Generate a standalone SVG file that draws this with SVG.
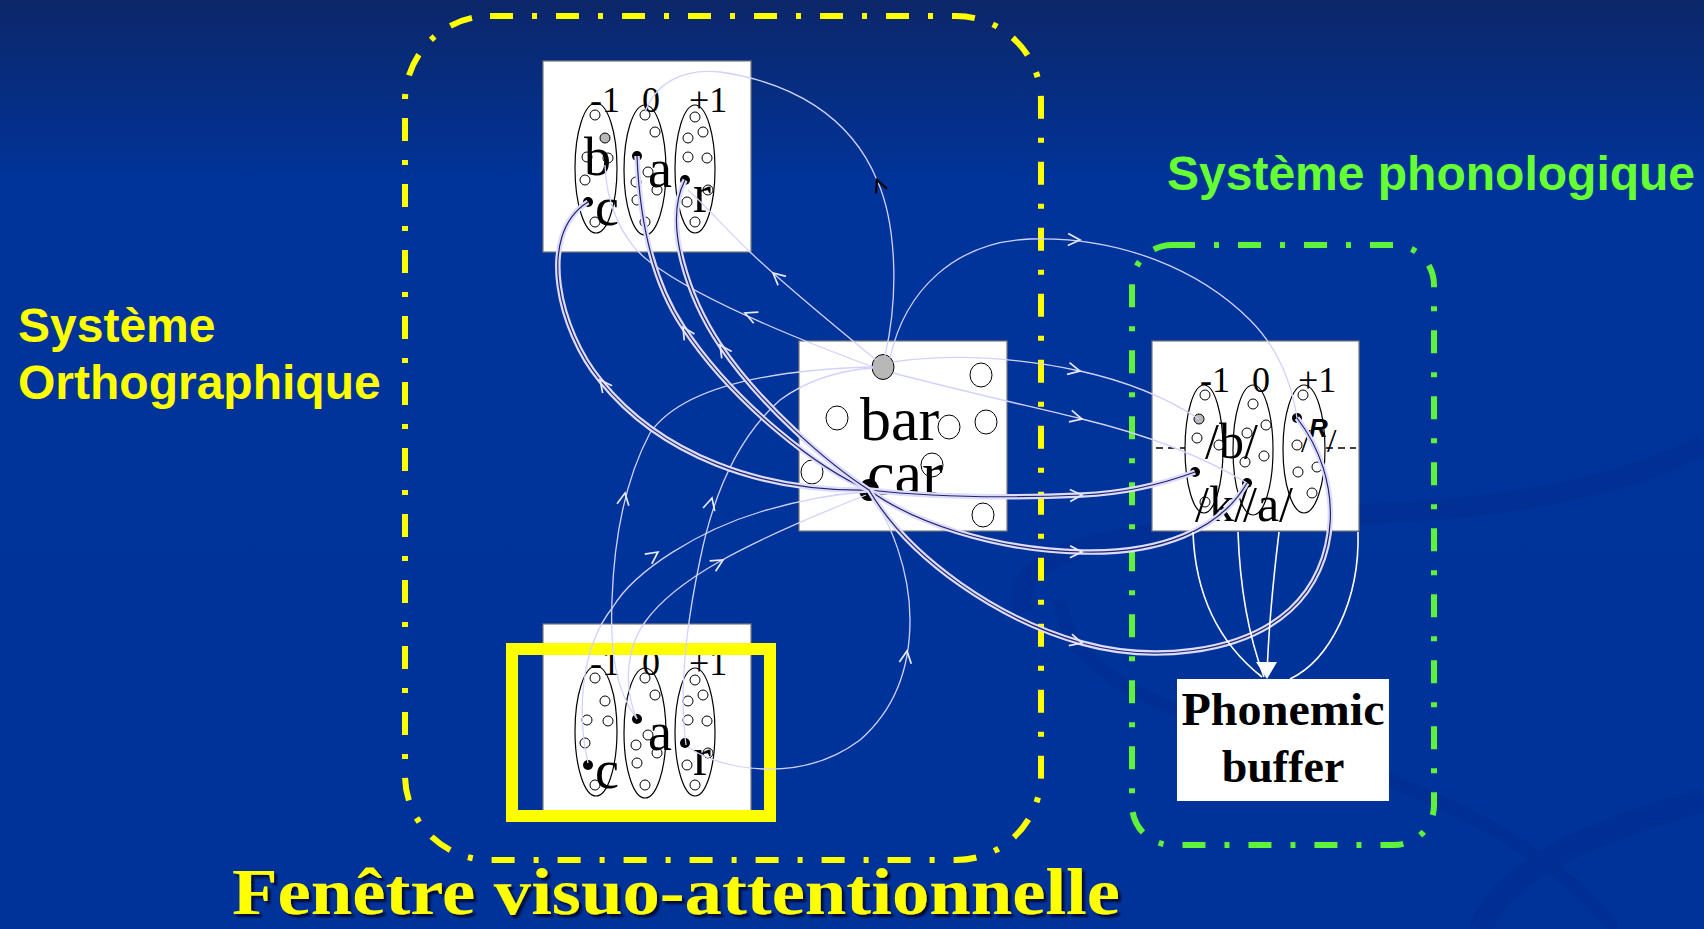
<svg xmlns="http://www.w3.org/2000/svg" xmlns:xlink="http://www.w3.org/1999/xlink" width="1704" height="929" viewBox="0 0 1704 929">
  <defs>
    <linearGradient id="bg" x1="0" y1="0" x2="0" y2="1">
      <stop offset="0" stop-color="#0c276a"/>
      <stop offset="0.2" stop-color="#00349a"/>
      <stop offset="1" stop-color="#003399"/>
    </linearGradient>
    <filter id="shadow" x="-5%" y="-20%" width="110%" height="140%">
      <feDropShadow dx="3" dy="3" stdDeviation="1" flood-color="#000020" flood-opacity="0.8"/>
    </filter>
    <style>
      .serif { font-family: "Liberation Serif", "Times New Roman", serif; fill: #000; }
      .lab { font-size: 36px; }
      .let { font-size: 54px; }
      .big { font-size: 62px; }
      .ph { font-size: 50px; }
      .caption { font-family: "Liberation Serif", "Times New Roman", serif; font-weight: bold; fill: #ffff00; }
      .box { fill: #fff; stroke: #7a7a7a; stroke-width: 1.2; }
      .ell { fill: none; stroke: #000; stroke-width: 1.2; }
      .c { fill: #fff; stroke: #000; stroke-width: 1; }
      .cb { fill: #000; }
      .cg { fill: #b8b8b8; stroke: #000; stroke-width: 1; }
      .thin { fill: none; stroke: #d2d2ff; stroke-width: 1.3; }
      .thick { fill: none; stroke: #dcdcff; stroke-width: 5.5; }
      .core { fill: none; stroke: #23236a; stroke-width: 1.2; }
      .wht { fill: none; stroke: #ffffff; stroke-width: 1.6; }
      .chev { fill: none; stroke: #eaeaff; stroke-width: 1.7; }
      .chevk { fill: none; stroke: #000; stroke-width: 2.2; }
      .frame { fill: none; stroke-width: 6; stroke-dasharray: 23 19 5 19; }
      .sans { font-family: "Liberation Sans", Arial, sans-serif; font-weight: bold; }
    </style>
    <path id="chevron" d="M-12,-6 L0,0 L-12,6"/>
    <!-- shared letter grid: frame, position labels, three columns of units -->
    <g id="grid">
      <rect class="box" x="543" y="61" width="208" height="191"/>
      <text class="serif lab" x="590" y="112">-1</text>
      <text class="serif lab" x="642" y="112">0</text>
      <text class="serif lab" x="689" y="112">+1</text>
      <ellipse class="ell" cx="596" cy="168" rx="21" ry="65"/>
      <ellipse class="ell" cx="645" cy="170" rx="21" ry="65"/>
      <ellipse class="ell" cx="695" cy="169" rx="20" ry="64"/>
      <circle class="c" cx="595" cy="115" r="5"/>
      <circle class="c" cx="587" cy="157" r="5"/>
      <circle class="c" cx="608" cy="158" r="5"/>
      <circle class="c" cx="585" cy="180" r="5"/>
      <circle class="cb" cx="588" cy="202" r="5"/>
      <circle class="c" cx="595" cy="222" r="5"/>
      <circle class="c" cx="645" cy="115" r="5"/>
      <circle class="c" cx="655" cy="132" r="5"/>
      <circle class="cb" cx="637" cy="156" r="5"/>
      <circle class="c" cx="648" cy="172" r="5"/>
      <circle class="c" cx="636" cy="182" r="5"/>
      <circle class="c" cx="657" cy="190" r="5"/>
      <circle class="c" cx="637" cy="200" r="5"/>
      <circle class="c" cx="645" cy="222" r="5"/>
      <circle class="c" cx="695" cy="117" r="5"/>
      <circle class="c" cx="688" cy="138" r="5"/>
      <circle class="c" cx="703" cy="132" r="5"/>
      <circle class="c" cx="688" cy="157" r="5"/>
      <circle class="c" cx="707" cy="158" r="5"/>
      <circle class="cb" cx="685" cy="180" r="5"/>
      <circle class="c" cx="708" cy="190" r="5"/>
      <circle class="c" cx="687" cy="202" r="5"/>
      <circle class="c" cx="695" cy="222" r="5"/>
    </g>
    <!-- letters c a r, written over the units -->
    <g id="car-letters">
      <text class="serif let" x="595" y="225">c</text>
      <text class="serif let" x="648" y="187">a</text>
      <text class="serif let" x="693" y="212">r</text>
    </g>
    <!-- thick connector paths (drawn twice: halo + core) -->
    <path id="k1" d="M869,490 C760,492 660,455 600,380 C560,332 535,235 588,202"/>
    <path id="k2" d="M869,490 C820,470 735,405 683,327 C657,288 640,230 637,156"/>
    <path id="k3" d="M869,490 C830,465 760,405 720,345 C690,300 662,225 685,180"/>
    <path id="k4" d="M869,490 C930,497 1010,498 1082,495 C1130,493 1165,483 1195,472"/>
    <path id="k5" d="M869,490 C910,520 990,550 1082,552 C1160,554 1220,530 1247,483"/>
    <path id="k6" d="M869,490 C910,560 1000,620 1082,643 C1150,662 1240,655 1290,610 C1340,565 1345,480 1297,418"/>
  </defs>

  <!-- background -->
  <rect x="0" y="0" width="1704" height="929" fill="url(#bg)"/>
  <g fill="none" stroke="#002c8c" opacity="0.45">
    <path d="M1025,612 C1000,545 1130,528 1400,512 C1540,505 1640,478 1704,445" stroke-width="20"/>
    <path d="M1060,600 C1070,690 1200,720 1330,760 C1460,800 1560,860 1615,929" stroke-width="14"/>
    <path d="M1480,929 C1500,880 1560,840 1704,800" stroke-width="24"/>
  </g>

  <!-- system containers -->
  <g id="ortho-system">
    <rect class="frame" x="405" y="16" width="636" height="844" rx="85" ry="85" stroke="#ffff00"/>
    <text class="sans" x="18" y="342" font-size="48" fill="#ffff00">Système</text>
    <text class="sans" x="18" y="399" font-size="48" fill="#ffff00">Orthographique</text>
  </g>
  <g id="phono-system">
    <rect class="frame" x="1132" y="245" width="302" height="600" rx="40" ry="40" stroke="#5ff23a"/>
    <text class="sans" x="1167" y="190" font-size="48" fill="#66ff33">Système phonologique</text>
  </g>

  <!-- orthographic input, upper letter grid ("bar") -->
  <g id="letters-top">
    <use xlink:href="#grid"/>
    <circle class="cg" cx="605" cy="138" r="5"/>
    <use xlink:href="#car-letters"/>
    <text class="serif let" x="584" y="175">b</text>
  </g>

  <!-- orthographic input, lower letter grid ("car") -->
  <g id="letters-bottom">
    <use xlink:href="#grid" transform="translate(0,563)"/>
    <circle class="c" cx="605" cy="701" r="5"/>
    <use xlink:href="#car-letters" transform="translate(0,563)"/>
  </g>

  <!-- word units -->
  <g id="words">
    <rect class="box" x="799" y="341" width="208" height="190" stroke="#555"/>
    <ellipse class="c" cx="981" cy="375" rx="11" ry="12"/>
    <ellipse class="c" cx="837" cy="418" rx="11" ry="12"/>
    <ellipse class="c" cx="949" cy="427" rx="11" ry="12"/>
    <ellipse class="c" cx="986" cy="422" rx="11" ry="12"/>
    <ellipse class="c" cx="932" cy="465" rx="11" ry="12"/>
    <ellipse class="c" cx="812" cy="472" rx="11" ry="12"/>
    <ellipse class="c" cx="983" cy="515" rx="11" ry="12"/>
    <ellipse class="cg" cx="883" cy="367" rx="11" ry="12.5"/>
    <text class="serif big" x="860" y="440">bar</text>
    <text class="serif big" x="867" y="494">car</text>
    <ellipse class="cb" cx="869" cy="490" rx="10" ry="11"/>
  </g>

  <!-- phoneme units -->
  <g id="phonemes">
    <rect class="box" x="1152" y="341" width="207" height="190"/>
    <text class="serif lab" x="1200" y="392">-1</text>
    <text class="serif lab" x="1252" y="392">0</text>
    <text class="serif lab" x="1298" y="392">+1</text>
    <line x1="1156" y1="448" x2="1185" y2="448" stroke="#000" stroke-width="1.6" stroke-dasharray="7 5"/>
    <line x1="1326" y1="448" x2="1356" y2="448" stroke="#000" stroke-width="1.6" stroke-dasharray="7 5"/>
    <ellipse class="ell" cx="1204" cy="449" rx="19" ry="64"/>
    <ellipse class="ell" cx="1253" cy="450" rx="20" ry="65"/>
    <ellipse class="ell" cx="1304" cy="449" rx="21" ry="64"/>
    <circle class="c" cx="1205" cy="395" r="5"/>
    <circle class="cg" cx="1199" cy="419" r="5"/>
    <circle class="c" cx="1197" cy="438" r="5"/>
    <circle class="c" cx="1219" cy="445" r="5"/>
    <circle class="cb" cx="1195" cy="472" r="5"/>
    <circle class="c" cx="1205" cy="502" r="5"/>
    <circle class="c" cx="1253" cy="404" r="5"/>
    <circle class="c" cx="1266" cy="425" r="5"/>
    <circle class="c" cx="1247" cy="433" r="5"/>
    <circle class="c" cx="1264" cy="456" r="5"/>
    <circle class="c" cx="1245" cy="462" r="5"/>
    <circle class="cb" cx="1247" cy="483" r="5"/>
    <circle class="c" cx="1303" cy="395" r="5"/>
    <circle class="cb" cx="1297" cy="418" r="5"/>
    <circle class="c" cx="1297" cy="445" r="5"/>
    <circle class="c" cx="1317" cy="467" r="5"/>
    <circle class="c" cx="1298" cy="472" r="5"/>
    <circle class="c" cx="1312" cy="493" r="5"/>
    <text class="serif ph" x="1205" y="458">/b/</text>
    <text class="serif ph" x="1195" y="521">/k/</text>
    <text class="serif ph" x="1243" y="521">/a/</text>
    <text class="serif" x="1301" y="452" font-size="34">/</text>
    <text class="sans" x="1309" y="437" font-size="26" font-style="italic" fill="#000">R</text>
    <text class="serif" x="1327" y="452" font-size="34">/</text>
  </g>

  <!-- phonemic buffer -->
  <g id="buffer">
    <rect x="1177" y="679" width="212" height="122" fill="#fff"/>
    <text class="serif" x="1283" y="725" font-size="46" font-weight="bold" text-anchor="middle" textLength="203" lengthAdjust="spacingAndGlyphs">Phonemic</text>
    <text class="serif" x="1283" y="782" font-size="46" font-weight="bold" text-anchor="middle">buffer</text>
  </g>

  <!-- attention window over the lower grid -->
  <g id="attention-window">
    <rect x="512" y="649" width="258" height="167" fill="none" stroke="#ffff00" stroke-width="12"/>
  </g>

  <!-- connections -->
  <g id="connectors">
    <!-- thin links -->
    <path class="thin" d="M876,360 C840,330 790,290 750,252 C725,228 705,205 688,190"/>
    <path class="thin" d="M873,367 C800,340 700,300 650,262 C620,240 606,200 605,165"/>
    <path class="thin" d="M885,356 C900,290 895,220 877,180 C850,115 790,82 720,72 C680,68 655,85 645,112"/>
    <path class="thin" d="M890,358 C905,290 955,242 1030,239 C1120,236 1200,270 1250,320 C1280,350 1292,385 1297,418"/>
    <path class="thin" d="M893,362 C960,352 1030,360 1080,371 C1130,382 1170,400 1199,419"/>
    <path class="thin" d="M893,373 C950,388 1020,404 1082,419 C1140,433 1200,455 1247,483"/>
    <path class="thin" d="M588,763 C578,720 578,650 613,607 C635,570 700,530 760,512 C800,500 835,494 866,492"/>
    <path class="thin" d="M637,719 C615,690 610,650 612,600 C614,540 625,480 650,433 C680,390 760,370 873,367"/>
    <path class="thin" d="M686,745 C680,700 683,640 700,560 C712,500 735,440 780,400 C810,378 845,370 873,368"/>
    <path class="thin" d="M637,719 C624,690 625,650 645,622 C675,580 740,545 866,495"/>
    <path class="thin" d="M688,747 C720,770 800,785 860,740 C900,705 910,660 910,620 C910,570 890,520 870,495"/>
    <use class="chev" xlink:href="#chevron" transform="translate(773,273) rotate(-139)"/>
    <use class="chev" xlink:href="#chevron" transform="translate(745,313) rotate(-157)"/>
    <use class="chevk" xlink:href="#chevron" transform="translate(877,180) rotate(-112)"/>
    <use class="chev" xlink:href="#chevron" transform="translate(1080,240) rotate(2)"/>
    <use class="chev" xlink:href="#chevron" transform="translate(1080,371) rotate(12)"/>
    <use class="chev" xlink:href="#chevron" transform="translate(1082,419) rotate(14)"/>
    <use class="chev" xlink:href="#chevron" transform="translate(658,552) rotate(-36)"/>
    <use class="chev" xlink:href="#chevron" transform="translate(625,493) rotate(-80)"/>
    <use class="chev" xlink:href="#chevron" transform="translate(712,498) rotate(-75)"/>
    <use class="chev" xlink:href="#chevron" transform="translate(723,560) rotate(-30)"/>
    <use class="chev" xlink:href="#chevron" transform="translate(907,651) rotate(-82)"/>

    <!-- thick links -->
    <use class="thick" xlink:href="#k1"/><use class="core" xlink:href="#k1"/>
    <use class="thick" xlink:href="#k2"/><use class="core" xlink:href="#k2"/>
    <use class="thick" xlink:href="#k3"/><use class="core" xlink:href="#k3"/>
    <use class="thick" xlink:href="#k4"/><use class="core" xlink:href="#k4"/>
    <use class="thick" xlink:href="#k5"/><use class="core" xlink:href="#k5"/>
    <use class="thick" xlink:href="#k6"/><use class="core" xlink:href="#k6"/>
    <use class="chev" xlink:href="#chevron" transform="translate(600,380) rotate(-128)"/>
    <use class="chev" xlink:href="#chevron" transform="translate(683,327) rotate(-122)"/>
    <use class="chev" xlink:href="#chevron" transform="translate(720,345) rotate(-124)"/>
    <use class="chev" xlink:href="#chevron" transform="translate(1082,495) rotate(-2)"/>
    <use class="chev" xlink:href="#chevron" transform="translate(1082,552) rotate(1)"/>
    <use class="chev" xlink:href="#chevron" transform="translate(1082,643) rotate(15)"/>

    <!-- phonemes to buffer -->
    <path class="wht" d="M1193,532 C1195,590 1215,640 1262,677"/>
    <path class="wht" d="M1238,532 C1240,590 1250,640 1264,677"/>
    <path class="wht" d="M1279,532 C1272,590 1268,640 1267,677"/>
    <path class="wht" d="M1358,532 C1360,600 1330,660 1290,679"/>
    <polygon points="1256,662 1277,662 1267,679" fill="#fff"/>
  </g>

  <!-- caption -->
  <text class="caption" x="232" y="914" font-size="66" filter="url(#shadow)" textLength="888" lengthAdjust="spacingAndGlyphs">Fenêtre visuo-attentionnelle</text>
</svg>
